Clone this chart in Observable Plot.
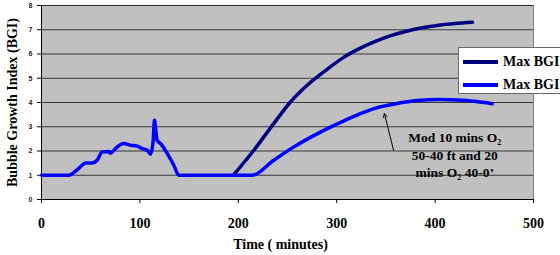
<!DOCTYPE html>
<html>
<head>
<meta charset="utf-8">
<script src="https://cdn.jsdelivr.net/npm/d3@7"></script>
<script src="https://cdn.jsdelivr.net/npm/@observablehq/plot@0.6"></script>
<style>
  html, body { margin: 0; padding: 0; background: #fff; }
  #wrap { position: relative; width: 560px; height: 255px; overflow: hidden; }
  #legend { position: absolute; left: 458px; top: 47px; width: 110px; height: 47px;
    background: #fff; border: 1px solid #6a6a6a; box-sizing: border-box;
    font-family: "Liberation Serif", serif; font-weight: bold; font-size: 14px; }
  .row { position: absolute; left: 0; height: 16px; display: flex; align-items: center; }
  .sw { width: 35px; height: 3.5px; margin-left: 4px; margin-right: 5px; }
</style>
</head>
<body>
<div id="wrap"></div>
<script>
// Series 1 (blue "Max BGI")
const timeBlue = [0,27.8,33,37.9,44.7,51.5,56.6,61.7,68.4,70,75.2,83.6,90.4,97.2,102.3,107.4,110.8,113.5,114.8,116.2,117.5,121,127.7,134.5,139.5,214,236,256.5,283.5,304,324,338,360,382,405,422.5,440,458];
const bgiBlue  = [1,1,1.12,1.28,1.51,1.51,1.62,1.96,1.98,1.91,2.1,2.31,2.24,2.2,2.1,2.03,1.87,2.44,3.27,2.85,2.44,2.31,1.9,1.41,1.0,1.0,1.62,2.17,2.78,3.18,3.54,3.75,3.95,4.08,4.12,4.1,4.05,3.95];
// Series 2 (navy "Max BGI")
const timeNavy = [195,215.8,236,253,270,290,307,324,338,355,372,390,405.5,420,438];
const bgiNavy  = [1,2.03,3.13,4.02,4.71,5.36,5.86,6.24,6.5,6.76,6.95,7.1,7.2,7.26,7.31];
const seriesNames = ["Max BGI", "Max BGI"];
const seriesColors = ["#000080", "#0000ff"];
const xTicks = [0,100,200,300,400,500];
const yTicks = [0,1,2,3,4,5,6,7,8];
const xTitle = "Time ( minutes)";
const yTitle = "Bubble Growth Index (BGI)";
const noteText = "Mod 10 mins O\u2082\n50-40 ft and 20\nmins O\u2082 40-0\u2019";
const notePos = {x: 420, y: 1.87};
const arrowData = [{x1: 357.8, y1: 2.03, x2: 348.5, y2: 3.54}];

const blue = timeBlue.map((t, i) => ({t, v: bgiBlue[i]}));
const navy = timeNavy.map((t, i) => ({t, v: bgiNavy[i]}));

const serif = "Liberation Serif, Times New Roman, serif";

const chart = Plot.plot({
  width: 560,
  height: 255,
  marginTop: 5,
  marginLeft: 41,
  marginRight: 27,
  marginBottom: 56,
  style: {fontFamily: serif, background: "transparent", overflow: "visible"},
  x: {domain: [0, 500]},
  y: {domain: [0, 8]},
  marks: [
    Plot.frame({fill: "#c0c0c0", stroke: "#808080"}),
    Plot.gridY(yTicks, {stroke: "#202020", strokeOpacity: 0.85, strokeWidth: 1}),
    Plot.ruleY([0], {stroke: "#000"}),
    Plot.ruleX([0], {stroke: "#000"}),
    Plot.axisY(yTicks, {tickSize: 4, tickPadding: 5, fontSize: 7, fontFamily: "Liberation Sans, Arial, sans-serif",
      fontWeight: "bold", label: null, stroke: "#000", fill: "#222"}),
    Plot.axisX(xTicks, {tickSize: 4, tickPadding: 15, fontSize: 14, fontFamily: serif, fontWeight: "bold",
      label: null, fill: "#000"}),
    Plot.line(navy, {x: "t", y: "v", stroke: seriesColors[0], strokeWidth: 3.5, strokeLinejoin: "round", curve: "monotone-x"}),
    Plot.line(blue, {x: "t", y: "v", stroke: seriesColors[1], strokeWidth: 3.5, strokeLinejoin: "round", curve: "monotone-x"}),
    Plot.arrow(arrowData, {x1: "x1", y1: "y1", x2: "x2", y2: "y2", stroke: "#000", strokeWidth: 1, headLength: 6}),
    Plot.text([noteText], {x: () => notePos.x, y: () => notePos.y, fontSize: 13.5, fontWeight: "bold",
      fontFamily: serif, lineHeight: 1.27, fill: "#000", textAnchor: "middle"}),
    Plot.text([xTitle], {frameAnchor: "bottom", lineAnchor: "middle", textAnchor: "middle", dy: 45, dx: -7, fontSize: 14,
      fontWeight: "bold", fontFamily: serif, fill: "#000"}),
    Plot.text([yTitle], {frameAnchor: "left", lineAnchor: "middle", textAnchor: "middle", dx: -29, rotate: -90, fontSize: 14,
      fontWeight: "bold", fontFamily: serif, fill: "#000"})
  ]
});

const wrap = document.getElementById("wrap");
wrap.appendChild(chart);

const legend = document.createElement("div");
legend.id = "legend";
seriesNames.forEach((name, i) => {
  const row = document.createElement("div");
  row.className = "row";
  row.style.top = (i === 0 ? 6 : 29) + "px";
  const sw = document.createElement("div");
  sw.className = "sw";
  sw.style.background = seriesColors[i];
  const lab = document.createElement("span");
  lab.textContent = name;
  row.appendChild(sw);
  row.appendChild(lab);
  legend.appendChild(row);
});
wrap.appendChild(legend);
</script>
</body>
</html>
